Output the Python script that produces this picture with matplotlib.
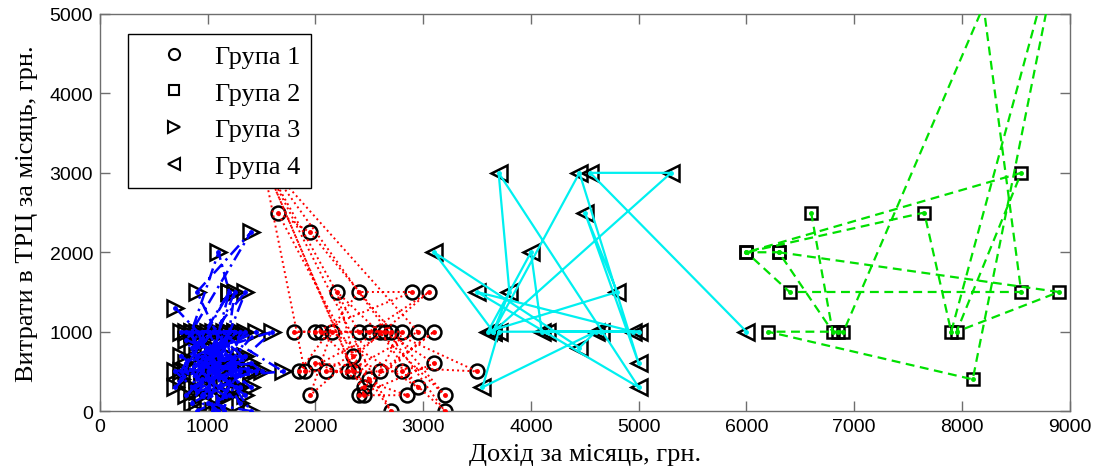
import numpy as np
import matplotlib.pyplot as plt
from matplotlib.lines import Line2D

# ---- data ----
# Група 1: red dotted polyline, circles
g1_x = [1500, 2700, 2350, 1650, 1950, 3200, 2200, 2450, 1500, 3200, 2800, 1850, 2400,
        2900, 2000, 2500, 3050, 1950, 2150, 2950, 2600, 1900, 1500, 2950, 2300, 2100,
        2650, 3100, 2400, 2850, 2000, 3500, 2700, 1800, 2050, 2500, 2450, 3100, 2600,
        2800, 2400, 1500, 2350]
g1_y = [3200, 0, 700, 2500, 2250, 200, 1500, 200, 3200, 0, 500, 500, 1500,
        1500, 1000, 1000, 1500, 200, 1000, 300, 1000, 500, 3200, 1000, 500, 500,
        1000, 600, 200, 200, 600, 500, 1000, 1000, 1000, 400, 300, 1000, 500,
        1000, 1000, 3200, 500]

# Група 2: green dashed polyline, squares (two vertices lie above the axes)
g2_x = [6600, 6800, 6300, 8900, 7950, 8550, 6000, 7650, 7900, 9000, 8100, 6200, 6850,
        6900, 8200, 8550, 6400, 6000, 6300]
g2_y = [2500, 1000, 2000, 1500, 1000, 3000, 2000, 2500, 1000, 6500, 400, 1000, 1000,
        1000, 5100, 1500, 1500, 2000, 2000]

# Група 3: blue dash-dot polyline, right triangles
g3_x = [700, 1250, 900, 1400, 850, 1100, 1200, 750, 1350, 1000, 1450, 800, 1150, 1300,
        900, 1600, 950, 1200, 700, 1050, 1400, 850, 1250, 1000, 1350, 1150, 750, 1300,
        900, 1100, 800, 1200, 1350, 950, 1500, 1050, 850, 1250, 1400, 1000, 1100, 1700,
        900, 1200, 750, 1300, 1050, 950, 1150, 800, 1400, 1000, 850, 1250, 1100, 700,
        1350, 900, 1200, 1000, 1150, 1300, 950, 850, 1050, 1250, 800, 1400, 1100, 1200,
        1250, 950, 1150, 750, 1050, 1300, 900, 1200, 1000, 1450, 800, 1100]
g3_y = [1300, 500, 1500, 2250, 1000, 2000, 1500, 500, 1500, 300, 1000, 600, 0, 1000,
        700, 1000, 200, 1500, 300, 800, 500, 100, 1000, 1000, 200, 400, 700, 100,
        1000, 500, 200, 700, 1000, 600, 500, 1000, 800, 300, 0, 100, 1000, 500,
        400, 1000, 1000, 500, 0, 1000, 200, 500, 600, 800, 300, 600, 0, 500,
        700, 0, 200, 400, 1000, 300, 400, 1000, 700, 1000, 1000, 300, 600, 1000,
        1500, 500, 900, 400, 600, 700, 250, 350, 550, 500, 900, 150]

# Група 4: cyan solid polyline, left triangles
g4_x = [6000, 4550, 5300, 3650, 4450, 5000, 4500, 4800, 3600, 4000, 4100, 4950, 3500,
        5000, 3700, 3800, 3650, 3100, 4450, 4600, 3550, 3700, 4650, 5000, 4150]
g4_y = [1000, 3000, 3000, 1000, 3000, 600, 2500, 1500, 1000, 2000, 1000, 1000, 1500,
        300, 3000, 1500, 1000, 2000, 800, 1000, 300, 1000, 1000, 1000, 1000]

labels = ["Група 1", "Група 2", "Група 3", "Група 4"]

x_ticks = np.arange(0, 9001, 1000)
y_ticks = np.arange(0, 5001, 1000)

# ---- figure ----
plt.rcParams.update({
    "font.family": "Liberation Sans",
    "font.size": 14,
    "axes.linewidth": 1.0,
})

fig = plt.figure(figsize=(11.02, 4.77), dpi=100)
ax = fig.add_axes([0.0907, 0.136, 0.880, 0.8326])

groups = [
    (g1_x, g1_y, "o", 10, "#ff0000", ":", 1.4),
    (g2_x, g2_y, "s", 9, "#00e000", (0, (4, 2.5)), 1.6),
    (g3_x, g3_y, ">", 11, "#0000ff", (0, (5, 2, 1, 2)), 1.8),
    (g4_x, g4_y, "<", 11, "#00f0f0", "-", 1.6),
]

for gx, gy, mk, ms, col, ls, lw in groups:
    ax.plot(gx, gy, linestyle="none", marker=mk, markersize=ms,
            markerfacecolor="none", markeredgecolor="black",
            markeredgewidth=1.8, zorder=2)
    ax.plot(gx, gy, linestyle=ls, color=col, linewidth=lw,
            marker=".", markersize=5, zorder=3)

ax.set_xlim(0, 9000)
ax.set_ylim(0, 5000)
ax.set_xticks(x_ticks)
ax.set_yticks(y_ticks)

for sp in ax.spines.values():
    sp.set_color("#6e6e6e")

ax.tick_params(direction="in", length=7, width=1.0, color="#6e6e6e",
               top=True, right=True, labelsize=14, labelcolor="black", pad=5)

ax.set_xlabel("Дохід за місяць, грн.", family="Liberation Serif", fontsize=19,
              labelpad=6)
ax.set_ylabel("Витрати в ТРЦ за місяць, грн.", family="Liberation Serif", fontsize=19,
              labelpad=8)

handles = [Line2D([], [], linestyle="none", marker=mk, markersize=ms * 0.8,
                  markerfacecolor="none", markeredgecolor="black", markeredgewidth=1.5)
           for _, _, mk, ms, _, _, _ in groups]
leg = ax.legend(handles, labels, loc="upper left", bbox_to_anchor=(0.029, 0.95),
                borderaxespad=0, fancybox=False, framealpha=1, edgecolor="black",
                prop={"family": "Liberation Serif", "size": 19},
                labelspacing=0.5, handletextpad=0.2, handlelength=2.7,
                borderpad=0.4)
leg.get_frame().set_linewidth(1.0)
leg.set_zorder(10)

fig.savefig("out.png", dpi=100)
